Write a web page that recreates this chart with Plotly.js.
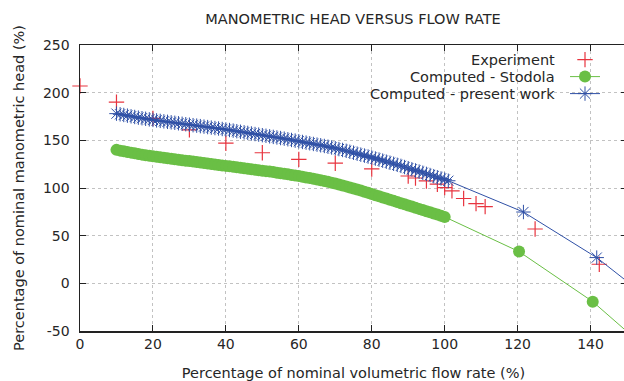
<!DOCTYPE html>
<html>
<head>
<meta charset="utf-8">
<script src="https://cdn.plot.ly/plotly-3.0.1.min.js"></script>
<style>
html, body { margin: 0; padding: 0; overflow: hidden; background: #fff; }
#chart { width: 640px; height: 381px; }
</style>
</head>
<body>
<div id="chart"></div>
<script>
// ---- Data ----
var expFlow = [0, 10, 20, 30, 40, 50, 60, 70, 80, 90, 92, 95, 98, 100, 102, 105.2, 108.6, 111.1, 124.8, 142.4];
var expHead = [207, 190, 173, 161, 147, 137, 130, 126, 120, 112.6, 110.5, 107.4, 104, 100.4, 97, 89, 83.6, 80.5, 57, 20];

var stodolaFlow = [10, 11, 12, 13, 14, 15, 16, 17, 18, 19, 20, 21, 22, 23, 24, 25, 26, 27, 28, 29,
  30, 31, 32, 33, 34, 35, 36, 37, 38, 39, 40, 41, 42, 43, 44, 45, 46, 47, 48, 49,
  50, 51, 52, 53, 54, 55, 56, 57, 58, 59, 60, 61, 62, 63, 64, 65, 66, 67, 68, 69,
  70, 71, 72, 73, 74, 75, 76, 77, 78, 79, 80, 81, 82, 83, 84, 85, 86, 87, 88, 89,
  90, 91, 92, 93, 94, 95, 96, 97, 98, 99, 100, 120.4, 140.6, 160];
var stodolaHead = [140.0, 139.2, 138.5, 137.8, 137.1, 136.4, 135.7, 135.0, 134.4, 133.8,
  133.2, 132.7, 132.2, 131.7, 131.2, 130.7, 130.2, 129.7, 129.2, 128.7,
  128.2, 127.7, 127.2, 126.7, 126.2, 125.7, 125.2, 124.7, 124.2, 123.7,
  123.2, 122.7, 122.2, 121.7, 121.2, 120.7, 120.2, 119.7, 119.2, 118.7,
  118.2, 117.7, 117.2, 116.7, 116.1, 115.5, 114.9, 114.3, 113.7, 113.1,
  112.5, 111.8, 111.1, 110.4, 109.7, 108.9, 108.1, 107.3, 106.5, 105.6,
  104.7, 103.7, 102.7, 101.7, 100.6, 99.5, 98.4, 97.3, 96.1, 94.9,
  93.7, 92.5, 91.3, 90.1, 88.9, 87.7, 86.5, 85.3, 84.1, 82.9,
  81.7, 80.5, 79.3, 78.1, 76.9, 75.7, 74.5, 73.3, 72.1, 70.9,
  69.7, 33.3, -19.2, -84];

var presentFlow = [10, 11, 12, 13, 14, 15, 16, 17, 18, 19, 20, 21, 22, 23, 24, 25, 26, 27, 28, 29,
  30, 31, 32, 33, 34, 35, 36, 37, 38, 39, 40, 41, 42, 43, 44, 45, 46, 47, 48, 49,
  50, 51, 52, 53, 54, 55, 56, 57, 58, 59, 60, 61, 62, 63, 64, 65, 66, 67, 68, 69,
  70, 71, 72, 73, 74, 75, 76, 77, 78, 79, 80, 81, 82, 83, 84, 85, 86, 87, 88, 89,
  90, 91, 92, 93, 94, 95, 96, 97, 98, 99, 100, 101, 121.6, 141.7, 160];
var presentHead = [178.0, 177.3, 176.6, 175.9, 175.2, 174.5, 173.8, 173.2, 172.6, 172.0,
  171.4, 170.9, 170.4, 169.9, 169.4, 168.9, 168.4, 167.9, 167.4, 166.9,
  166.4, 165.9, 165.4, 164.9, 164.4, 163.9, 163.4, 162.9, 162.4, 161.9,
  161.4, 160.8, 160.2, 159.6, 159.0, 158.4, 157.8, 157.2, 156.6, 156.0,
  155.4, 154.8, 154.2, 153.6, 153.0, 152.4, 151.8, 151.1, 150.4, 149.7,
  149.0, 148.3, 147.6, 146.9, 146.2, 145.5, 144.8, 144.1, 143.3, 142.5,
  141.7, 140.8, 139.9, 139.0, 138.0, 137.0, 136.0, 135.0, 134.0, 133.0,
  132.0, 130.9, 129.8, 128.7, 127.6, 126.5, 125.4, 124.3, 123.2, 122.0,
  120.8, 119.6, 118.4, 117.2, 116.0, 114.8, 113.6, 112.4, 111.2, 110.0,
  108.8, 107.6, 74.8, 27.0, -28];

var seriesNames = ['Experiment', 'Computed - Stodola', 'Computed - present work'];
var xTickVals = [0, 20, 40, 60, 80, 100, 120, 140];
var yTickVals = [-50, 0, 50, 100, 150, 200, 250];

// ---- Styling ----
var RED = '#e8343f', GREEN = '#6abf45', BLUE = '#2f50a6';
var TXT = '#262626';
var FONT = 'DejaVu Sans, sans-serif';

var traces = [
  {
    x: expFlow, y: expHead, type: 'scatter', mode: 'markers', name: ' ',
    cliponaxis: false, legend: 'legend',
    marker: { symbol: 'cross-thin-open', size: 11, color: RED, line: { color: RED, width: 1.2 } }
  },
  {
    x: stodolaFlow, y: stodolaHead, type: 'scatter', mode: 'lines+markers', name: ' ',
    legend: 'legend2',
    line: { color: GREEN, width: 1 },
    marker: { symbol: 'circle', size: 12, color: GREEN, line: { width: 0 } }
  },
  {
    x: presentFlow, y: presentHead, type: 'scatter', mode: 'lines+markers', name: ' ',
    legend: 'legend3',
    line: { color: BLUE, width: 1 },
    marker: { symbol: 'asterisk-open', size: 12, color: BLUE, line: { color: BLUE, width: 1 } }
  }
];

var L = 80, PW = 547, T = 45, PH = 286;
function px2x(p) { return (p - L) / PW; }
function px2y(p) { return 1 - (p - T) / PH; }
var rowY = [60, 77, 94];

function legendAt(py) {
  return {
    x: px2x(565), xanchor: 'left', y: px2y(py), yanchor: 'middle',
    bgcolor: 'rgba(0,0,0,0)', borderwidth: 0, font: { family: FONT, size: 14, color: TXT },
    itemwidth: 30
  };
}

var annotations = seriesNames.map(function (n, i) {
  return {
    text: n, xref: 'paper', yref: 'paper', x: px2x(557), y: px2y(rowY[i]),
    xanchor: 'right', yanchor: 'middle', showarrow: false,
    font: { family: FONT, size: 14.5, color: TXT }
  };
});

var axisCommon = {
  showline: true, mirror: 'ticks', linecolor: '#222', linewidth: 1.5,
  ticks: 'inside', ticklen: 6, tickcolor: '#222', tickwidth: 1,
  showgrid: true, gridcolor: '#c2c2c2', gridwidth: 1, griddash: 'dot',
  zeroline: false, tickfont: { family: FONT, size: 14, color: TXT }
};

var layout = {
  width: 640, height: 381,
  margin: { l: L, r: 640 - L - PW, t: T, b: 381 - T - PH, pad: 0 },
  paper_bgcolor: '#fff', plot_bgcolor: '#fff',
  font: { family: FONT, size: 14, color: TXT },
  title: { text: 'MANOMETRIC HEAD VERSUS FLOW RATE', font: { family: FONT, size: 14.5, color: TXT },
           x: 353 / 640, xanchor: 'center', y: 1 - 19 / 381, yanchor: 'middle' },
  xaxis: Object.assign({}, axisCommon, {
    range: [0, 150], tickvals: xTickVals, ticktext: xTickVals.map(String),
    title: { text: 'Percentage of nominal volumetric flow rate (%)', font: { family: FONT, size: 14.5, color: TXT }, standoff: 16 }
  }),
  yaxis: Object.assign({}, axisCommon, {
    range: [-50, 250], tickvals: yTickVals, ticktext: yTickVals.map(String),
    ticklabelstandoff: 6,
    title: { text: 'Percentage of nominal manometric head (%)', font: { family: FONT, size: 14.5, color: TXT }, standoff: 15 }
  }),
  shapes: [{
    type: 'rect', xref: 'paper', yref: 'paper', layer: 'between',
    x0: px2x(343), x1: 1, y0: px2y(104), y1: px2y(47),
    fillcolor: '#ffffff', line: { width: 0 }
  }],
  showlegend: true,
  legend: legendAt(rowY[0]),
  legend2: legendAt(rowY[1]),
  legend3: legendAt(rowY[2]),
  annotations: annotations
};

Plotly.newPlot('chart', traces, layout, { displayModeBar: false, staticPlot: true });
</script>
</body>
</html>
